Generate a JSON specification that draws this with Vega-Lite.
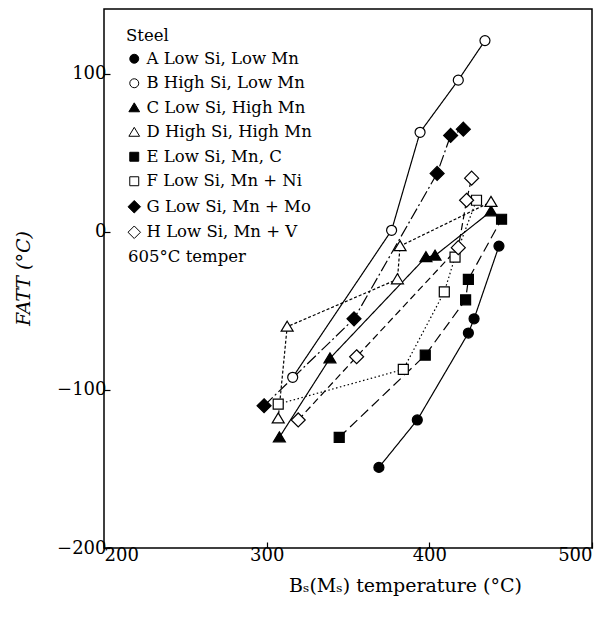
{
  "$schema": "https://vega.github.io/schema/vega-lite/v6.json",
  "width": 488,
  "height": 539,
  "autosize": "none",
  "padding": {"left": 104, "top": 9, "right": 20, "bottom": 73},
  "background": "white",
  "config": {
    "view": {"stroke": "black", "strokeWidth": 1.5},
    "font": "DejaVu Serif",
    "axis": {
      "grid": false, "domain": false, "tickColor": "black", "tickWidth": 1.2,
      "labelColor": "black", "titleColor": "black",
      "labelFont": "DejaVu Serif", "titleFont": "DejaVu Serif",
      "labelFontSize": 18, "titleFontSize": 19, "titleFontWeight": "normal",
      "tickSize": -6
    },
    "legend": {
      "orient": "none", "legendX": 22, "legendY": 19, "padding": 0,
      "titleFont": "DejaVu Serif", "titleFontSize": 16.5, "titleFontWeight": "normal", "titleColor": "black",
      "labelFont": "DejaVu Serif", "labelFontSize": 16.5, "labelColor": "black", "labelLimit": 400,
      "symbolStrokeColor": "black", "symbolStrokeWidth": 1, "symbolSize": 80,
      "rowPadding": 7.5, "titlePadding": 6, "labelOffset": 4
    }
  },
  "datasets": {
    "pts": [
      {"steel": "A Low Si, Low Mn", "bs": 369, "fatt": -149},
      {"steel": "A Low Si, Low Mn", "bs": 392.6, "fatt": -119},
      {"steel": "A Low Si, Low Mn", "bs": 424, "fatt": -64},
      {"steel": "A Low Si, Low Mn", "bs": 427.5, "fatt": -55},
      {"steel": "A Low Si, Low Mn", "bs": 442.8, "fatt": -9},
      {"steel": "B High Si, Low Mn", "bs": 316, "fatt": -92},
      {"steel": "B High Si, Low Mn", "bs": 376.8, "fatt": 1},
      {"steel": "B High Si, Low Mn", "bs": 394.3, "fatt": 63},
      {"steel": "B High Si, Low Mn", "bs": 417.8, "fatt": 96},
      {"steel": "B High Si, Low Mn", "bs": 434.2, "fatt": 121},
      {"steel": "C Low Si, High Mn", "bs": 307.8, "fatt": -130},
      {"steel": "C Low Si, High Mn", "bs": 338.9, "fatt": -80},
      {"steel": "C Low Si, High Mn", "bs": 397.9, "fatt": -16},
      {"steel": "C Low Si, High Mn", "bs": 403.5, "fatt": -15},
      {"steel": "C Low Si, High Mn", "bs": 437.9, "fatt": 13},
      {"steel": "D High Si, High Mn", "bs": 307.1, "fatt": -118},
      {"steel": "D High Si, High Mn", "bs": 312.6, "fatt": -60},
      {"steel": "D High Si, High Mn", "bs": 380.4, "fatt": -30},
      {"steel": "D High Si, High Mn", "bs": 382, "fatt": -9},
      {"steel": "D High Si, High Mn", "bs": 437.9, "fatt": 19},
      {"steel": "E Low Si, Mn, C", "bs": 344.6, "fatt": -130},
      {"steel": "E Low Si, Mn, C", "bs": 397.5, "fatt": -78},
      {"steel": "E Low Si, Mn, C", "bs": 422.3, "fatt": -43},
      {"steel": "E Low Si, Mn, C", "bs": 424, "fatt": -30},
      {"steel": "E Low Si, Mn, C", "bs": 444.4, "fatt": 8},
      {"steel": "F Low Si, Mn + Ni", "bs": 307.1, "fatt": -109},
      {"steel": "F Low Si, Mn + Ni", "bs": 384, "fatt": -87},
      {"steel": "F Low Si, Mn + Ni", "bs": 409.2, "fatt": -38},
      {"steel": "F Low Si, Mn + Ni", "bs": 415.8, "fatt": -16},
      {"steel": "F Low Si, Mn + Ni", "bs": 429, "fatt": 20},
      {"steel": "G Low Si, Mn + Mo", "bs": 298.4, "fatt": -110},
      {"steel": "G Low Si, Mn + Mo", "bs": 353.7, "fatt": -55},
      {"steel": "G Low Si, Mn + Mo", "bs": 404.8, "fatt": 37},
      {"steel": "G Low Si, Mn + Mo", "bs": 413.1, "fatt": 61},
      {"steel": "G Low Si, Mn + Mo", "bs": 420.9, "fatt": 65},
      {"steel": "H Low Si, Mn + V", "bs": 319.4, "fatt": -119},
      {"steel": "H Low Si, Mn + V", "bs": 355.3, "fatt": -79},
      {"steel": "H Low Si, Mn + V", "bs": 417.8, "fatt": -10},
      {"steel": "H Low Si, Mn + V", "bs": 422.9, "fatt": 20},
      {"steel": "H Low Si, Mn + V", "bs": 426, "fatt": 34}
    ],
    "note": [
      {"bs": 214.8, "fatt": -15.8, "label": "605°C temper"}
    ]
  },
  "encoding": {
    "x": {
      "field": "bs", "type": "quantitative",
      "scale": {"domain": [200, 500], "nice": false, "zero": false},
      "axis": {"values": [200, 300, 400, 500], "labelPadding": 4, "title": "Bₛ(Mₛ) temperature (°C)", "titleX": 301, "titleY": 37, "titleBaseline": "middle", "titleAnchor": "middle"}
    },
    "y": {
      "field": "fatt", "type": "quantitative",
      "scale": {"domain": [-200, 141], "nice": false, "zero": false},
      "axis": {"values": [-200, -100, 0, 100], "labelPadding": 4, "title": "FATT (°C)", "titleFontStyle": "italic", "titleX": -81, "titleY": 269, "titleBaseline": "middle", "titleAnchor": "middle"}
    }
  },
  "layer": [
    {
      "data": {"name": "pts"},
      "mark": {"type": "line", "color": "black", "strokeWidth": 1.2},
      "encoding": {
        "detail": {"field": "steel"},
        "strokeDash": {
          "field": "steel", "type": "nominal", "legend": null,
          "scale": {"range": [[1, 0], [1, 0], [1, 0], [3, 2], [10, 5], [1.5, 2.5], [12, 3, 2, 3], [7, 4]]}
        }
      }
    },
    {
      "data": {"name": "pts"},
      "mark": {"type": "point", "filled": true, "strokeWidth": 1.2, "size": 100, "opacity": 1},
      "encoding": {
        "shape": {
          "field": "steel", "type": "nominal", "title": "Steel",
          "scale": {"range": ["circle", "circle", "M0,-1.1L1.2,0.9L-1.2,0.9Z", "M0,-1.1L1.2,0.9L-1.2,0.9Z", "square", "square", "M0,-1.4L1.4,0L0,1.4L-1.4,0Z", "M0,-1.4L1.4,0L0,1.4L-1.4,0Z"]}
        },
        "fill": {
          "field": "steel", "type": "nominal", "title": "Steel",
          "scale": {"range": ["black", "white", "black", "white", "black", "white", "black", "white"]}
        },
        "stroke": {
          "field": "steel", "type": "nominal", "title": "Steel",
          "scale": {"range": ["black", "black", "black", "black", "black", "black", "black", "black"]}
        }
      }
    },
    {
      "data": {"name": "note"},
      "mark": {"type": "text", "align": "left", "baseline": "middle", "font": "DejaVu Serif", "fontSize": 16.5, "color": "black"},
      "encoding": {"text": {"field": "label"}}
    }
  ]
}
